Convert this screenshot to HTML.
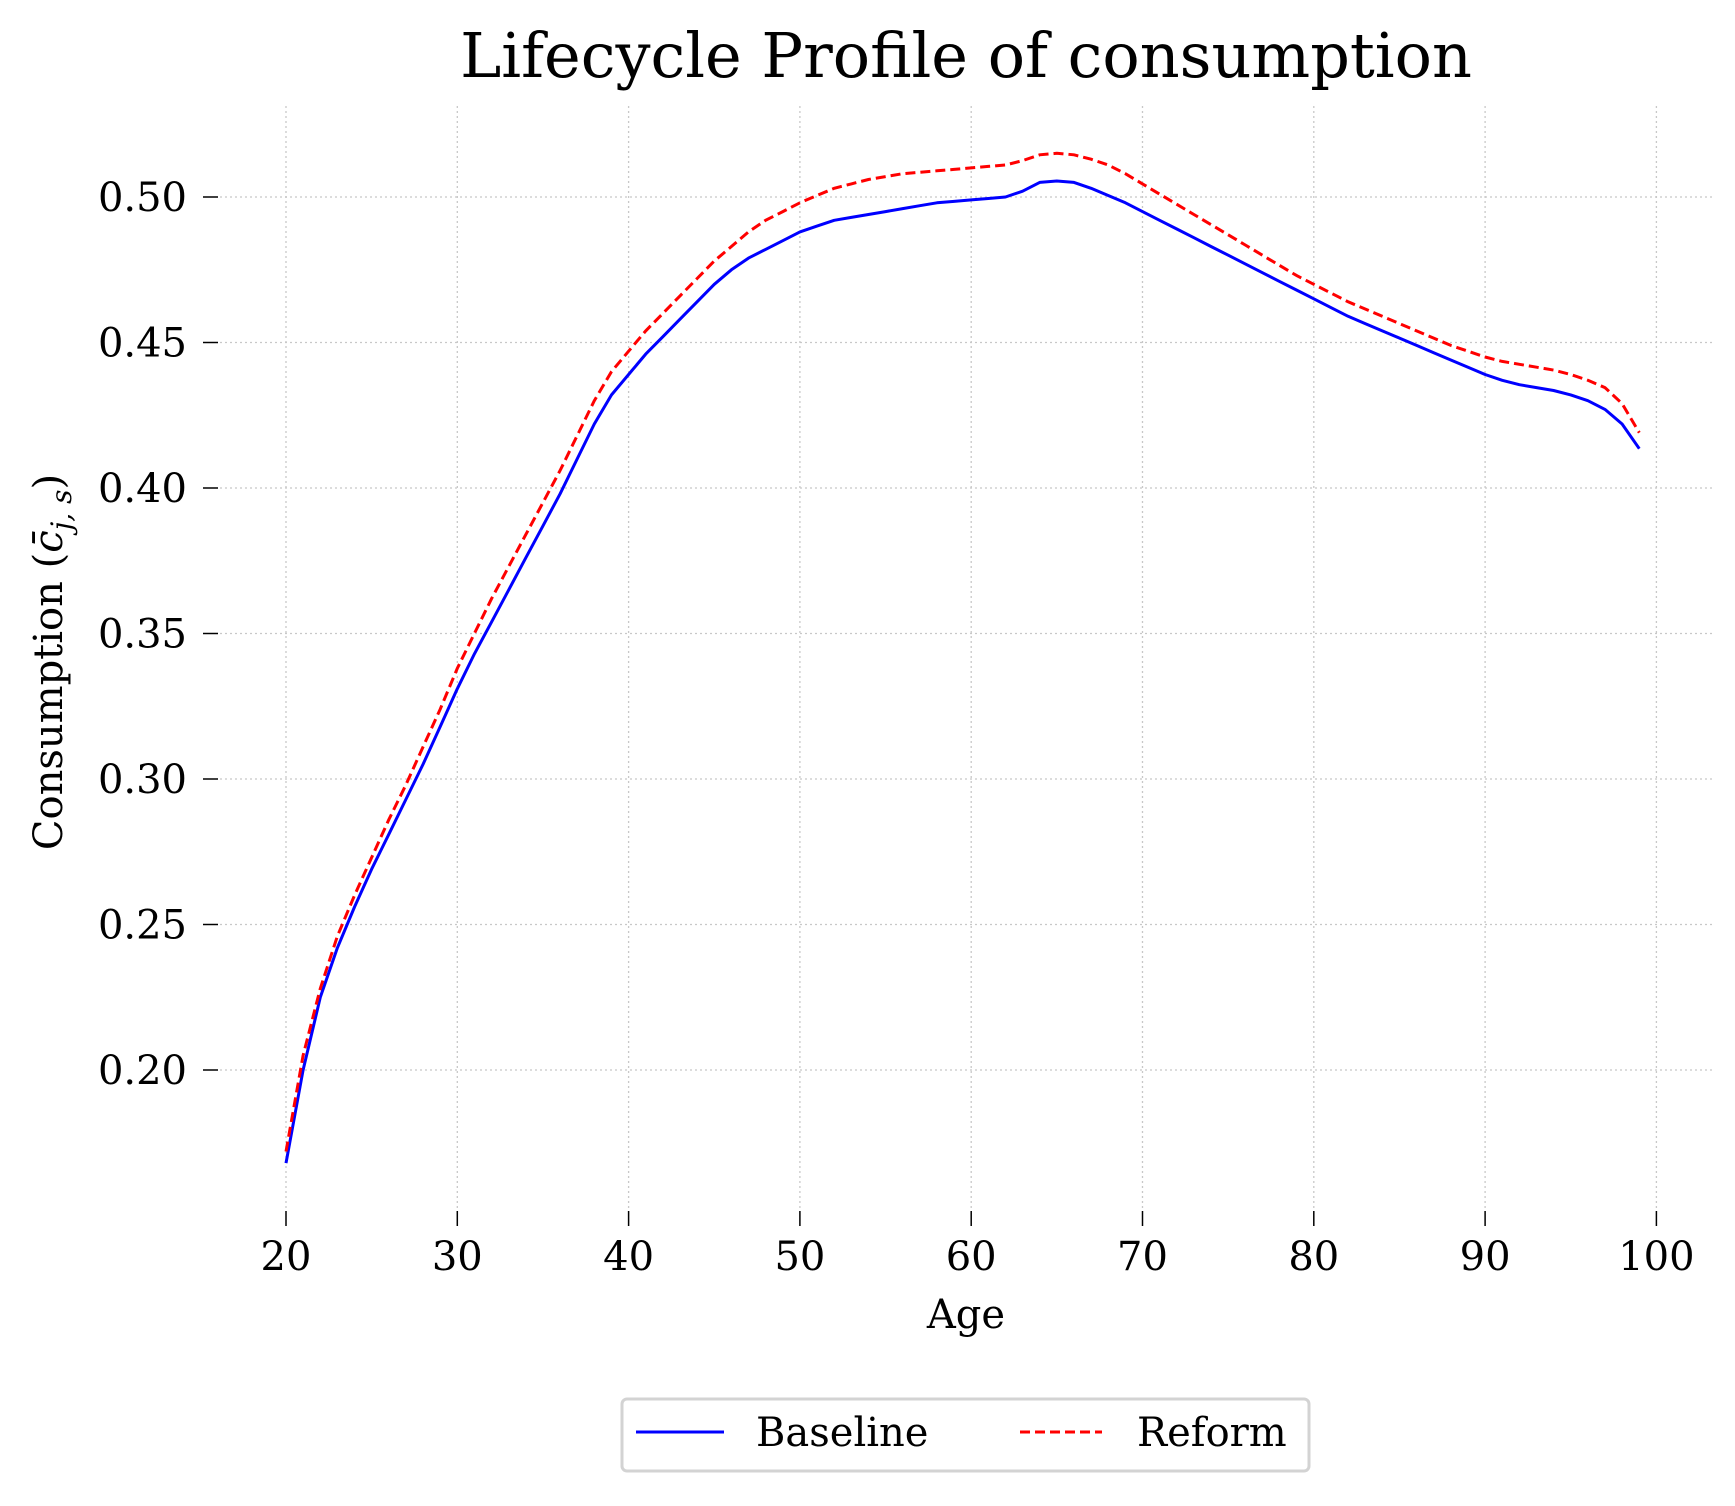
<!DOCTYPE html>
<html><head><meta charset="utf-8"><style>
body{margin:0;background:#fff;}
svg text{font-family:"DejaVu Serif","Liberation Serif",serif;fill:#000;}
</style></head><body>
<svg width="1735" height="1501" viewBox="0 0 1735 1501" xmlns="http://www.w3.org/2000/svg">
<text x="966" y="77" font-size="62" text-anchor="middle">Lifecycle Profile of consumption</text>
<g id="grid"></g>
<g id="ticks"></g>
<g id="lines"></g>
<text x="966" y="1328" font-size="40" text-anchor="middle">Age</text>
<text transform="translate(62,662) rotate(-90)" font-size="40" text-anchor="middle">Consumption (<tspan font-style="italic">c̄</tspan><tspan font-style="italic" font-size="28" dy="9">j, s</tspan><tspan dy="-9">)</tspan></text>
<g>
<rect x="622" y="1399" width="687" height="72" rx="5" fill="#fff" stroke="#d3d3d3" stroke-width="3"/>
<line x1="636" y1="1432" x2="724" y2="1432" stroke="#0000ff" stroke-width="3"/>
<text x="756" y="1446" font-size="40">Baseline</text>
<line x1="1020" y1="1432" x2="1102" y2="1432" stroke="#ff0000" stroke-width="3" stroke-dasharray="10,5"/>
<text x="1137" y="1446" font-size="40">Reform</text>
</g>
</svg>
<script>
const ages=[];for(let a=20;a<=99;a++)ages.push(a);
const baseline=[0.168,0.200,0.225,0.242,0.256,0.269,0.281,0.293,0.305,0.318,0.331,0.343,0.354,0.365,0.376,0.387,0.398,0.410,0.422,0.432,0.439,0.446,0.452,0.458,0.464,0.470,0.475,0.479,0.482,0.485,0.488,0.490,0.492,0.493,0.494,0.495,0.496,0.497,0.498,0.4985,0.499,0.4995,0.500,0.502,0.505,0.5055,0.505,0.503,0.5005,0.498,0.495,0.492,0.489,0.486,0.483,0.480,0.477,0.474,0.471,0.468,0.465,0.462,0.459,0.4565,0.454,0.4515,0.449,0.4465,0.444,0.4415,0.439,0.437,0.4355,0.4345,0.4335,0.432,0.430,0.427,0.422,0.4135];
const reform=[0.172,0.205,0.228,0.246,0.260,0.273,0.286,0.298,0.311,0.324,0.338,0.350,0.362,0.373,0.384,0.395,0.406,0.418,0.430,0.440,0.447,0.454,0.460,0.466,0.472,0.478,0.483,0.488,0.492,0.495,0.498,0.5005,0.503,0.5045,0.506,0.507,0.508,0.5085,0.509,0.5095,0.510,0.5105,0.511,0.5125,0.5145,0.515,0.5145,0.513,0.511,0.508,0.5045,0.501,0.4975,0.494,0.4905,0.487,0.4835,0.480,0.4765,0.473,0.470,0.467,0.464,0.4615,0.459,0.4565,0.454,0.4515,0.449,0.447,0.445,0.4435,0.4425,0.4415,0.4405,0.439,0.437,0.4345,0.429,0.419];
const xTicks=[20,30,40,50,60,70,80,90,100];
const yTicks=[0.20,0.25,0.30,0.35,0.40,0.45,0.50];
const NS="http://www.w3.org/2000/svg";
const X=a=>286+(a-20)*17.13;
const Y=v=>197+(0.50-v)/0.05*145.5;
function mk(tag,attrs,parent){const e=document.createElementNS(NS,tag);for(const k in attrs)e.setAttribute(k,attrs[k]);parent.appendChild(e);return e;}
const grid=document.getElementById('grid'),ticks=document.getElementById('ticks'),lines=document.getElementById('lines');
xTicks.forEach(t=>{
 const g=mk('line',{x1:X(t),x2:X(t),y1:106,y2:1210,stroke:'#c8c8c8','stroke-width':1.3,'stroke-dasharray':'2,3'},grid);
 
 
 const tk=mk('line',{x1:X(t),x2:X(t),y1:1211,y2:1226,stroke:'#000','stroke-width':1.5},ticks);
 
 
 const tx=mk('text',{x:X(t),y:1270,'font-size':40,'text-anchor':'middle'},ticks);
 
 
 tx.textContent=t;
});
yTicks.forEach(t=>{
 const g=mk('line',{x1:220,x2:1712,y1:Y(t),y2:Y(t),stroke:'#c8c8c8','stroke-width':1.3,'stroke-dasharray':'2,3'},grid);
 
 
 const tk=mk('line',{x1:203,x2:218,y1:Y(t),y2:Y(t),stroke:'#000','stroke-width':1.5},ticks);
 
 
 const tx=mk('text',{x:187,y:Y(t)+14,'font-size':40,'text-anchor':'end'},ticks);
 
 
 tx.textContent=t.toFixed(2);
});
function path(vals){return vals.map((v,i)=>(i?'L':'M')+X(ages[i]).toFixed(1)+','+Y(v).toFixed(1)).join(' ');}
const pb=mk('path',{d:path(baseline),fill:'none',stroke:'#0000ff','stroke-width':3,'stroke-linejoin':'round'},lines);


const pr=mk('path',{d:path(reform),fill:'none',stroke:'#ff0000','stroke-width':3,'stroke-dasharray':'10,5'},lines);


</script>
</body></html>
